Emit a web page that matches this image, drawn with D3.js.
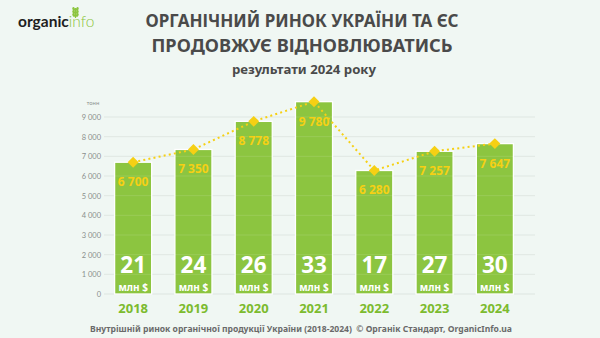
<!DOCTYPE html>
<html>
<head>
<meta charset="utf-8">
<script src="https://cdn.jsdelivr.net/npm/d3@7"></script>
<style>
  html, body { margin: 0; padding: 0; background: #f0f7f3; }
  svg { display: block; font-family: "Noto Sans", "Open Sans", sans-serif; }
</style>
</head>
<body>
<svg id="chart" width="600" height="338"></svg>
<script>
// Organic market of Ukraine, 2018–2024
const years = ["2018", "2019", "2020", "2021", "2022", "2023", "2024"];
const tonnes = [6700, 7350, 8778, 9780, 6280, 7257, 7647];
const valueMlnUsd = [21, 24, 26, 33, 17, 27, 30];
const yTicks = [0, 1000, 2000, 3000, 4000, 5000, 6000, 7000, 8000, 9000];

const titleLines = ["ОРГАНІЧНИЙ РИНОК УКРАЇНИ ТА ЄС", "ПРОДОВЖУЄ ВІДНОВЛЮВАТИСЬ"];
const subtitle = "результати 2024 року";
const footnote = "Внутрішній ринок органічної продукції України (2018-2024)  © Органік Стандарт, OrganicInfo.ua";

const W = 600, H = 338;
const green = "#8cc540", yellow = "#f6d014", dark = "#4a4a4a";
const fmt = v => d3.format(",")(v).replace(/,/g, " ");

const svg = d3.select("#chart");
svg.append("rect").attr("width", W).attr("height", H).attr("fill", "#f0f7f3");

// Logo
const logo = svg.append("g").attr("transform", "translate(18,27)");
const logoText = logo.append("text").attr("font-family", "Lato, 'Noto Sans', sans-serif").attr("font-size", 15.5);
logoText.append("tspan").attr("font-weight", 700).attr("fill", "#1e1e1e").text("organic");
logoText.append("tspan").attr("font-weight", 300).attr("fill", "#8cc540").text("info");
// wheat sprig above the "i"
const sprig = logo.append("g").attr("transform", "translate(57.5,-9)").attr("fill", "#8cc540");
sprig.append("rect").attr("x", -0.6).attr("y", -10).attr("width", 1.2).attr("height", 10);
[[-9, -1], [-6, -1], [-3, -1], [-9, 1], [-6, 1], [-3, 1]].forEach(([y, s]) => {
  sprig.append("ellipse").attr("cx", s * 1.8).attr("cy", y).attr("rx", 1.3).attr("ry", 2)
    .attr("transform", `rotate(${s * 25},${s * 1.8},${y})`);
});

// Titles
const titleWidths = [313, 301];
titleLines.forEach((t, i) => {
  svg.append("text")
    .attr("x", 302).attr("y", 27 + i * 25)
    .attr("text-anchor", "middle")
    .attr("font-size", 17.5).attr("font-weight", 700).attr("fill", dark)
    .attr("textLength", titleWidths[i]).attr("lengthAdjust", "spacingAndGlyphs")
    .text(t);
});
svg.append("text")
  .attr("x", 304).attr("y", 73.5)
  .attr("text-anchor", "middle")
  .attr("font-size", 12.5).attr("font-weight", 700).attr("fill", dark)
  .attr("textLength", 144).attr("lengthAdjust", "spacingAndGlyphs")
  .text(subtitle);

// Scales
const x = d3.scaleBand().domain(years).range([103, 525]).paddingInner(0.385).paddingOuter(0.1925);
const y = d3.scaleLinear().domain([0, 9000]).range([294, 117]);

// Gridlines and y axis labels
const yAxis = d3.axisLeft(y).tickValues(yTicks).tickFormat(fmt).tickSize(0).tickPadding(0);
const yg = svg.append("g").attr("transform", "translate(101,0)").call(yAxis);
yg.select(".domain").remove();
yg.selectAll("text").attr("font-size", 7.5).attr("fill", "#8a8f8c").attr("font-family", "Lato, 'Noto Sans', sans-serif");

const grid = svg.append("g");
grid.selectAll("line").data(yTicks).join("line")
  .attr("x1", 104).attr("x2", 535)
  .attr("y1", d => y(d)).attr("y2", d => y(d))
  .attr("stroke", "#dde5e0").attr("stroke-width", 1);

svg.append("text").attr("x", 93).attr("y", 105).attr("text-anchor", "middle")
  .attr("font-size", 5.5).attr("fill", "#8a8f8c").text("тонн");

// Bars
svg.append("g").selectAll("rect").data(years).join("rect")
  .attr("x", d => x(d)).attr("width", x.bandwidth())
  .attr("y", (d, i) => y(tonnes[i]))
  .attr("height", (d, i) => y(0) - y(tonnes[i]))
  .attr("fill", green).attr("stroke", "#ffffff").attr("stroke-width", 1.3);

// faint gridlines visible across bars
svg.append("g").selectAll("line").data(yTicks.filter(d => d > 0)).join("line")
  .attr("x1", 104).attr("x2", 535)
  .attr("y1", d => y(d)).attr("y2", d => y(d))
  .attr("stroke", "#ffffff").attr("stroke-opacity", 0.12);

// Trend line through the bar tops
const cx = (d) => x(d) + x.bandwidth() / 2;
const line = d3.line().x((d, i) => cx(years[i])).y(d => y(d));
svg.append("path").datum(tonnes).attr("d", line)
  .attr("fill", "none").attr("stroke", yellow).attr("stroke-width", 2)
  .attr("stroke-dasharray", "2,3.2");

svg.append("g").selectAll("path").data(tonnes).join("path")
  .attr("d", d3.symbol(d3.symbolSquare, 60))
  .attr("transform", (d, i) => `translate(${cx(years[i])},${y(d)}) rotate(45)`)
  .attr("fill", yellow);

// Tonnage labels
svg.append("g").selectAll("text").data(tonnes).join("text")
  .attr("x", (d, i) => cx(years[i])).attr("y", d => y(d) + 24)
  .attr("text-anchor", "middle").attr("font-size", 12).attr("font-weight", 700)
  .attr("fill", yellow).text(d => fmt(d));

// Value (mln USD) labels at bar bottom
svg.append("g").selectAll("text").data(valueMlnUsd).join("text")
  .attr("x", (d, i) => cx(years[i])).attr("y", 273)
  .attr("text-anchor", "middle").attr("font-size", 22.5).attr("font-weight", 700)
  .attr("fill", "#ffffff").text(d => d);
svg.append("g").selectAll("text").data(valueMlnUsd).join("text")
  .attr("x", (d, i) => cx(years[i])).attr("y", 290.5)
  .attr("text-anchor", "middle").attr("font-size", 10).attr("font-weight", 700)
  .attr("fill", "#ffffff").text("млн $");

// Year labels
const xAxis = d3.axisBottom(x).tickSize(0).tickPadding(0);
const xg = svg.append("g").attr("transform", "translate(0,301)").call(xAxis);
xg.select(".domain").remove();
xg.selectAll("text").attr("font-size", 13).attr("font-weight", 700).attr("fill", "#7cbb2e")
  .attr("dy", "0.95em").attr("font-family", "'Noto Sans', sans-serif");

// Footnote
svg.append("text").attr("x", 301).attr("y", 332)
  .attr("text-anchor", "middle").attr("font-size", 9).attr("font-weight", 700)
  .attr("fill", "#6a6a6a").attr("textLength", 422).attr("lengthAdjust", "spacingAndGlyphs")
  .attr("xml:space", "preserve")
  .text(footnote);
</script>
</body>
</html>
